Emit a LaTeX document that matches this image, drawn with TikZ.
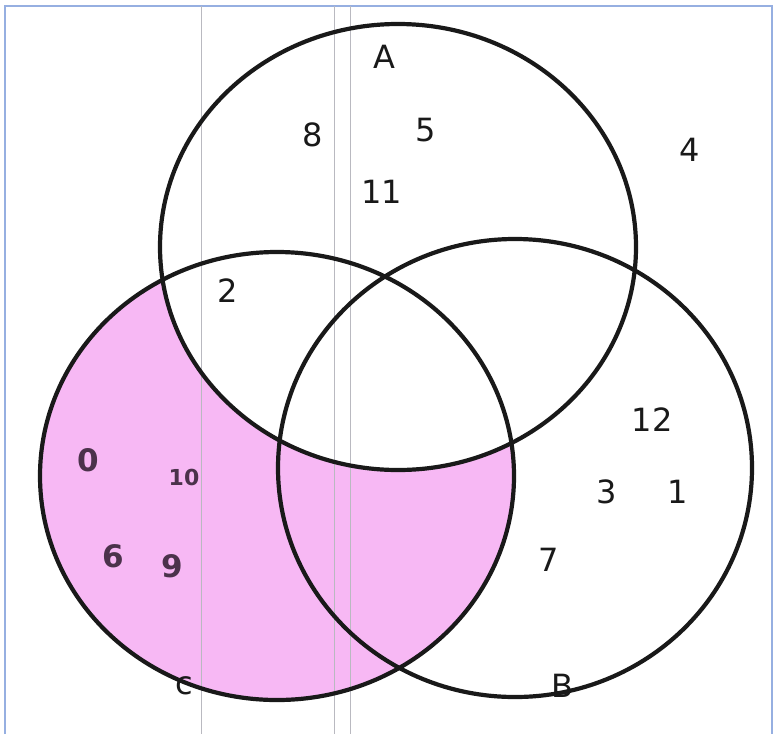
\documentclass[tikz,border=0pt]{standalone}
\usepackage{fontspec}
\setmainfont{DejaVu Sans}
\definecolor{pinkfill}{RGB}{247,184,244}
\definecolor{frameblue}{RGB}{150,175,225}
\definecolor{scanline}{RGB}{185,185,192}
\definecolor{ink}{RGB}{25,25,25}
\definecolor{marker}{RGB}{75,50,75}
\begin{document}
\begin{tikzpicture}[x=1pt,y=-1pt,
  setline/.style={line width=4.2pt,draw=ink},
  lab/.style={font=\fontsize{32}{32}\selectfont,text=ink,inner sep=0pt},
  mlab/.style={font=\bfseries\fontsize{31}{31}\selectfont,text=marker,inner sep=0pt}]
\useasboundingbox (0,0) rectangle (778,734);
\fill[white] (0,0) rectangle (778,734);
% shaded region C minus A
\begin{scope}
  \clip (277,476) ellipse [x radius=237, y radius=224];
  \fill[pinkfill] (277,476) ellipse [x radius=237, y radius=224];
  \fill[white] (398,247) ellipse [x radius=238, y radius=223];
\end{scope}
% scan frame and lines
\draw[frameblue,line width=1.2pt] (5,734) -- (5,6) -- (772,6) -- (772,734);
\draw[scanline,line width=0.9pt] (201,6) -- (201,734);
\draw[scanline,line width=0.9pt] (334,6) -- (334,734);
\draw[scanline,line width=0.9pt] (350,6) -- (350,734);
% circles
\draw[setline] (398,247) ellipse [x radius=238, y radius=223];
\draw[setline] (515,468) ellipse [x radius=237, y radius=229];
\draw[setline] (277,476) ellipse [x radius=237, y radius=224];
% labels
\node[lab] (lA) at (384,57) {A};
\node[lab] (lB) at (562,686) {B};
\node[lab] (lC) at (184,686) {c};
\node[lab] (n8) at (313,135) {8};
\node[lab] (n5) at (426,130) {5};
\node[lab] (n11) at (382,192) {11};
\node[lab] (n4) at (690,150) {4};
\node[lab] (n2) at (228,291) {2};
\node[lab] (n12) at (652,420) {12};
\node[lab] (n3) at (607,492) {3};
\node[lab] (n1) at (678,492) {1};
\node[lab] (n7) at (549,560) {7};
\node[mlab] (n0) at (88,460) {0};
\node[mlab,font=\bfseries\fontsize{22}{22}\selectfont] (n10) at (184,477) {10};
\node[mlab] (n6) at (113,556) {6};
\node[mlab] (n9) at (172,566) {9};
\end{tikzpicture}
\end{document}
